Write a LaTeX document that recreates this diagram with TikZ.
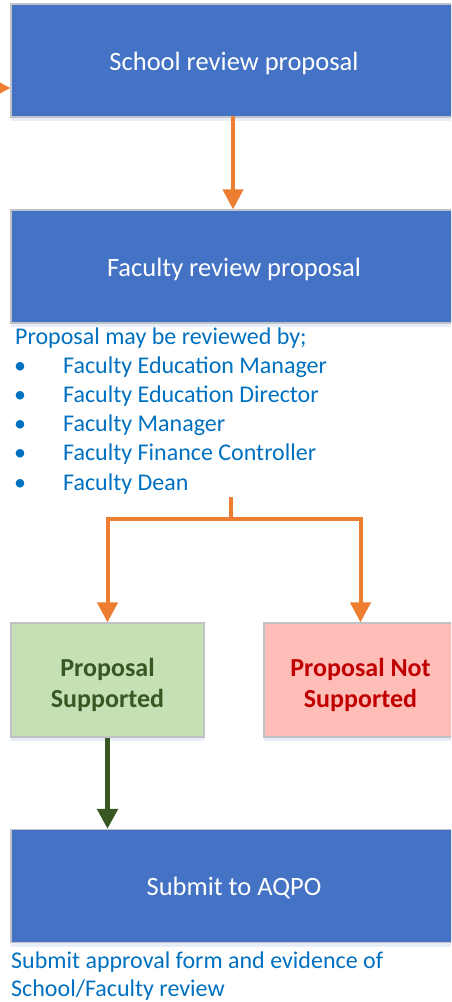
\documentclass[tikz,border=0pt]{standalone}
\usepackage{fontspec}
\setmainfont{Carlito}
\usetikzlibrary{arrows.meta, positioning, shadows}

\definecolor{stepblue}{HTML}{4472C4}
\definecolor{edgegray}{HTML}{BFC3C8}
\definecolor{noteblue}{HTML}{0070C0}
\definecolor{flowor}{HTML}{ED7D31}
\definecolor{okgreen}{HTML}{385723}
\definecolor{okfill}{HTML}{C5E0B4}
\definecolor{nofill}{HTML}{FFBDB8}
\definecolor{nored}{HTML}{C00000}

\tikzset{
  stepbox/.style={rectangle, draw=edgegray, line width=1.2pt, fill=stepblue,
    minimum width=446pt, minimum height=113pt, text=white,
    text height=25pt, text depth=6pt,
    font=\fontsize{26.5}{30}\selectfont,
    drop shadow={shadow xshift=0pt, shadow yshift=-4pt, opacity=0.12, fill=stepblue}},
  outcome/.style={rectangle, draw=edgegray, line width=1.2pt,
    minimum width=193pt, minimum height=114pt, align=center,
    font=\fontsize{26}{31}\selectfont\bfseries,
    drop shadow={shadow xshift=0pt, shadow yshift=-4pt, opacity=0.12, fill=stepblue}},
  note/.style={anchor=base west, inner sep=0pt, text=noteblue, font=\fontsize{24}{28}\selectfont},
  orflow/.style={draw=flowor, line width=4pt, line cap=round, -{Triangle[width=20pt, length=20pt]}},
  okflow/.style={draw=okgreen, line width=5pt, -{Triangle[width=20pt, length=20pt]}}
}

\begin{document}
\begin{tikzpicture}[x=1pt, y=-1pt]
\useasboundingbox (0, 0) rectangle (451, 1002);
\clip (0, 0) rectangle (451, 1002);

% main steps
\node[stepbox] (School) at (234, 60.5) {School review proposal};
\node[stepbox] (Faculty) at (234, 266.5) {Faculty review proposal};
\node[stepbox] (Submit) at (234, 886) {Submit to AQPO};

% reviewers
\node[note] (Rev) at (15, 344) {Proposal may be reviewed by;};
\foreach \who [count=\i] in {Faculty Education Manager, Faculty Education Director, Faculty Manager, Faculty Finance Controller, Faculty Dean} {
  \node[note] (Bul\i) at (14, 344 + 29.2*\i) {\textbullet};
  \node[note] (Who\i) at (63, 344 + 29.2*\i) {\who};
}

% outcomes
\node[outcome, fill=okfill, text=okgreen] (Yes) at (107.5, 680) {\\[-3pt]Proposal\\Supported};
\node[outcome, fill=nofill, text=nored] (No) at (360.5, 680) {\\[-3pt]Proposal Not\\Supported};

% submission note
\node[note] (Form) at (11, 968) {Submit approval form and evidence of};
\node[note] (FormB) at (11, 996) {School/Faculty review};

% connectors
\coordinate (Inflow) at (-40, 88);
\coordinate (Fork) at (231, 497);
\coordinate (Split) at (231, 519);
\draw[orflow] (Inflow) -- (Inflow -| School.west);
\draw[orflow] (School.south -| 233, 0) -- (Faculty.north -| 233, 0);
\draw[orflow, line cap=butt] (Fork) -- (Split) -| (Yes.north);
\draw[orflow, line cap=butt] (Split) -| (No.north);
\draw[okflow] (Yes.south) -- (Submit.north -| Yes.south);

\end{tikzpicture}
\end{document}
